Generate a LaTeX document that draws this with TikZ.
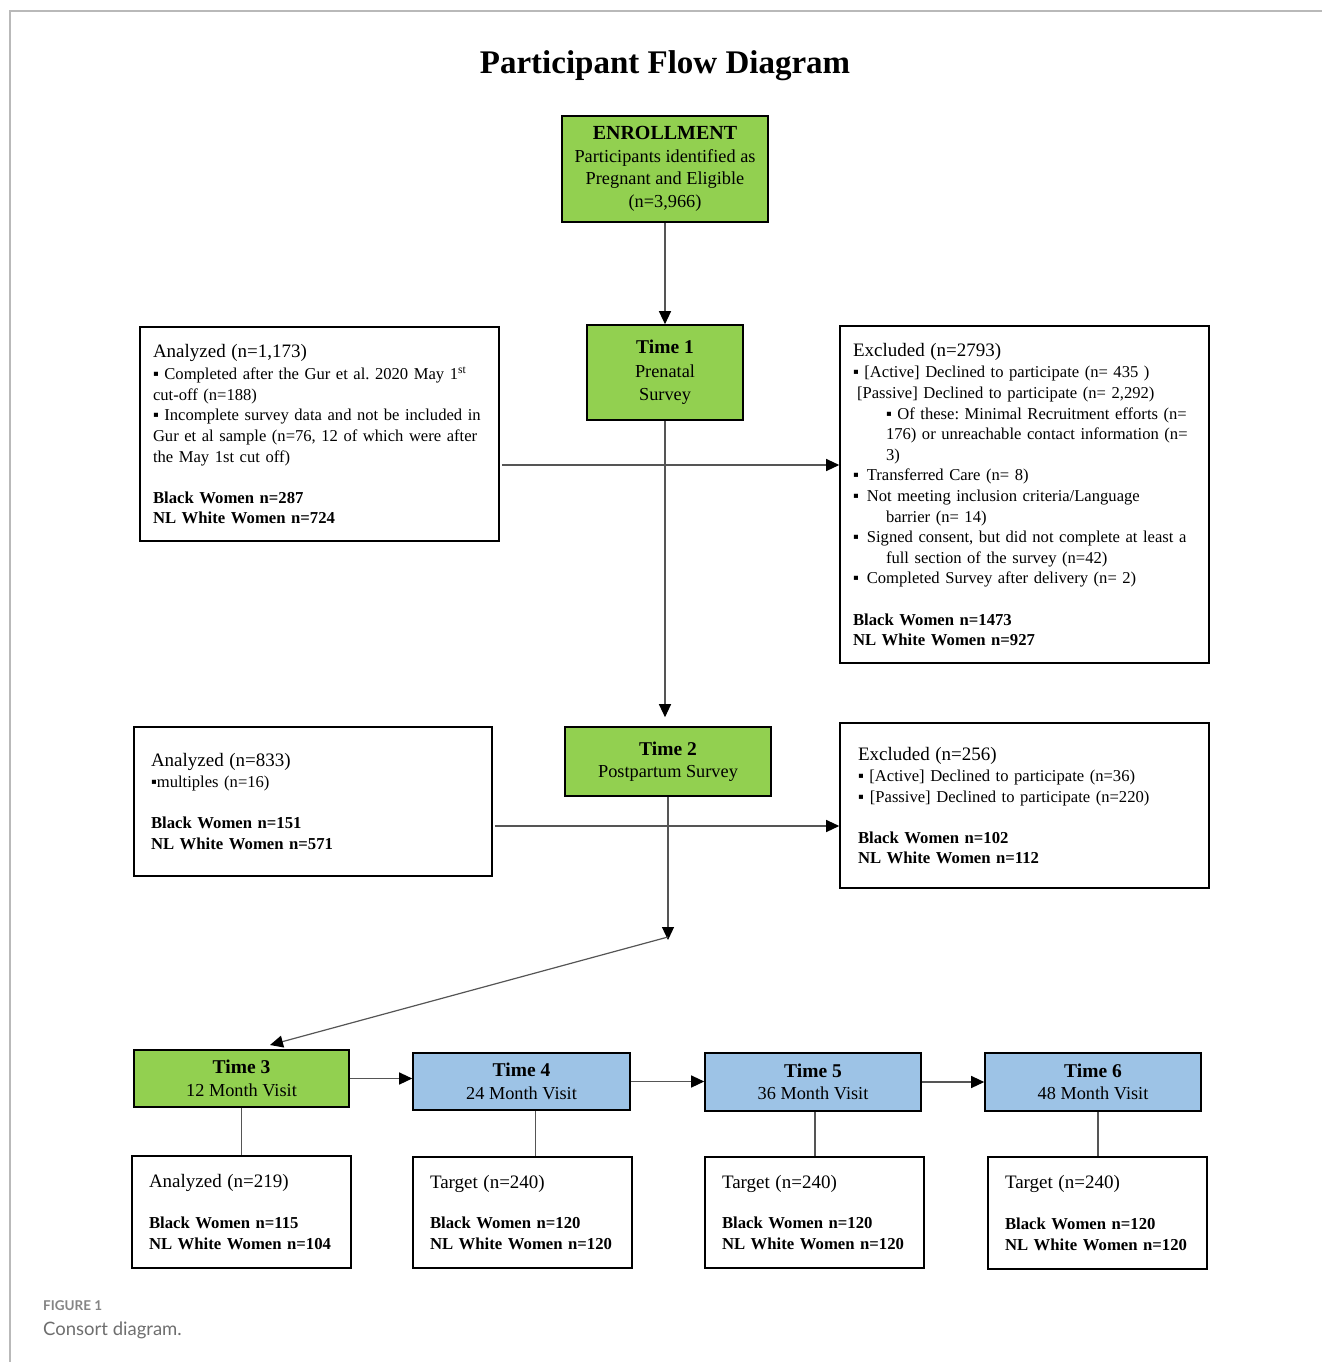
\documentclass[tikz,border=0pt]{standalone}
\usepackage{fontspec}
\setmainfont{Liberation Serif}
\newfontfamily\capfont{Lato}
\usetikzlibrary{arrows.meta}
\definecolor{boxgreen}{HTML}{92D050}
\definecolor{boxblue}{HTML}{9DC3E6}
\definecolor{linkgray}{HTML}{555555}
\definecolor{capgray}{HTML}{6E6E6E}
\frenchspacing
\newcommand\boxhead{\fontsize{19}{23}\selectfont}
\newcommand\grp[1]{{\fontsize{16.7}{20.6}\selectfont\bfseries #1}}
\newcommand\tlabel[1]{{\fontsize{19.5}{22}\selectfont\bfseries #1}}
\begin{document}
\begin{tikzpicture}[x=1pt,y=-1pt,
    greenbox/.style={draw, line width=1.6pt, fill=boxgreen, align=center, inner sep=0pt,
      font=\fontsize{18.3}{22.5}\selectfont},
    bluebox/.style={greenbox, fill=boxblue},
    infobox/.style={draw, line width=1.6pt, align=left, inner xsep=15pt, inner ysep=0pt,
      font=\fontsize{16.6}{20.6}\selectfont},
    link/.style={draw=linkgray, line width=1.2pt},
    arr/.style={link, -{Triangle[length=13pt,width=12pt,color=black]}}]

  \useasboundingbox (0,0) rectangle (1322,1362);
  \draw[gray!55, line width=1.5pt] (10,1362) -- (10,11) -- (1322,11);

  \node (title) at (665,66) {\fontsize{33}{40}\selectfont\bfseries Participant Flow Diagram};

  \node[greenbox, minimum width=206, minimum height=106] (enroll) at (665,169)
    {{\fontsize{20}{22}\selectfont\bfseries ENROLLMENT}\\Participants identified as\\Pregnant and Eligible\\(n=3,966)};
  \node[greenbox, minimum width=156, minimum height=95, font=\fontsize{18.3}{23.5}\selectfont] (t1) at (665,372.5)
    {\tlabel{Time 1}\\Prenatal\\Survey};
  \node[greenbox, minimum width=206, minimum height=69] (t2) at (668,761.5)
    {\tlabel{Time 2}\\Postpartum Survey};

  \node[infobox, inner xsep=13pt, minimum width=359, minimum height=214, text width=333] (an1) at (319.5,434)
    {{\boxhead Analyzed (n=1,173)}\\[2pt]
     ▪ Completed after the Gur et al. 2020 May 1\textsuperscript{st}\\
     cut-off (n=188)\\
     ▪ Incomplete survey data and not be included in\\
     Gur et al sample (n=76, 12 of which were after\\
     the May 1st cut off)\\[20.5pt]
     \grp{Black Women n=287}\\
     \grp{NL White Women n=724}};
  \node[infobox, inner xsep=13pt, minimum width=369, minimum height=337, text width=343] (ex1) at (1024.5,494.5)
    {{\boxhead Excluded (n=2793)}\\[1pt]
     ▪ [Active] Declined to participate (n= 435 )\\
     \hspace*{4pt}[Passive] Declined to participate (n= 2,292)\\
     \hspace*{33pt}▪ Of these: Minimal Recruitment efforts (n=\\
     \hspace*{33pt}176) or unreachable contact information (n=\\
     \hspace*{33pt}3)\\
     ▪\hspace*{8pt}Transferred Care (n= 8)\\
     ▪\hspace*{8pt}Not meeting inclusion criteria/Language\\
     \hspace*{33pt}barrier (n= 14)\\
     ▪\hspace*{8pt}Signed consent, but did not complete at least a\\
     \hspace*{33pt}full section of the survey (n=42)\\
     ▪\hspace*{8pt}Completed Survey after delivery (n= 2)\\[20.5pt]
     \grp{Black Women n=1473}\\
     \grp{NL White Women n=927}};

  \node[infobox, inner xsep=17pt, minimum width=358, minimum height=149, text width=324] (an2) at (313,801.5)
    {{\boxhead Analyzed (n=833)}\\
     ▪multiples (n=16)\\[20.5pt]
     \grp{Black Women n=151}\\
     \grp{NL White Women n=571}};
  \node[infobox, inner xsep=18pt, minimum width=369, minimum height=165, text width=333] (ex2) at (1024.5,805.5)
    {{\boxhead Excluded (n=256)}\\[1pt]
     ▪ [Active] Declined to participate (n=36)\\
     ▪\hspace*{6pt}[Passive] Declined to participate (n=220)\\[20.5pt]
     \grp{Black Women n=102}\\
     \grp{NL White Women n=112}};

  \node[greenbox, minimum width=215, minimum height=57] (t3) at (241.5,1078.5) {\tlabel{Time 3}\\12 Month Visit};
  \node[bluebox, minimum width=217, minimum height=57] (t4) at (521.5,1081.5) {\tlabel{Time 4}\\24 Month Visit};
  \node[bluebox, minimum width=216, minimum height=58] (t5) at (813,1082) {\tlabel{Time 5}\\36 Month Visit};
  \node[bluebox, minimum width=216, minimum height=58] (t6) at (1093,1082) {\tlabel{Time 6}\\48 Month Visit};

  \node[infobox, inner xsep=17pt, minimum width=219, minimum height=112, text width=185] (b3) at (241.5,1212)
    {{\boxhead Analyzed (n=219)}\\[20pt]
     \grp{Black Women n=115}\\
     \grp{NL White Women n=104}};
  \node[infobox, inner xsep=17pt, minimum width=219, minimum height=111, text width=185] (b4) at (522.5,1212.5)
    {{\boxhead Target (n=240)}\\[20pt]
     \grp{Black Women n=120}\\
     \grp{NL White Women n=120}};
  \node[infobox, inner xsep=17pt, minimum width=219, minimum height=111, text width=185] (b5) at (814.5,1212.5)
    {{\boxhead Target (n=240)}\\[20pt]
     \grp{Black Women n=120}\\
     \grp{NL White Women n=120}};
  \node[infobox, inner xsep=17pt, minimum width=219, minimum height=112, text width=185] (b6) at (1097.5,1213)
    {{\boxhead Target (n=240)}\\[20pt]
     \grp{Black Women n=120}\\
     \grp{NL White Women n=120}};

  \coordinate (split1) at (665,465);
  \coordinate (split2) at (667,826);
  \coordinate (turn) at (668,940);
  \coordinate (t3in) at (270,1045);

  \draw[arr] (enroll.south) -- (t1.north);
  \draw[arr, shorten >=9pt] (t1.south) -- (t1.south |- t2.north);
  \draw[arr] ([xshift=2pt]an1.east |- split1) -- (ex1.west |- split1);
  \draw[arr] (t2.south) -- (turn);
  \draw[arr] ([xshift=2pt]an2.east |- split2) -- (ex2.west |- split2);
  \draw[arr] (turn) ++(0,-3) -- (t3in);
  \draw[arr] (t3.east) -- (t3.east -| t4.west);
  \draw[arr] (t4.east) -- (t4.east -| t5.west);
  \draw[arr] (t5.east) -- (t5.east -| t6.west);
  \draw[link] (t3.south) -- (b3.north);
  \draw[link] ([xshift=14pt]t4.south) -- ([xshift=14pt]t4.south |- b4.north);
  \draw[link] ([xshift=2pt]t5.south) -- ([xshift=2pt]t5.south |- b5.north);
  \draw[link] ([xshift=5pt]t6.south) -- ([xshift=5pt]t6.south |- b6.north);

  \node[anchor=west, inner sep=0pt, text=capgray!85] (figno) at (43,1306)
    {\capfont\bfseries\fontsize{13.5}{16}\selectfont FIGURE 1};
  \node[anchor=west, inner sep=0pt, text=capgray] (figcap) at (43,1330)
    {\capfont\fontsize{18.5}{22}\selectfont Consort diagram.};
\end{tikzpicture}
\end{document}
